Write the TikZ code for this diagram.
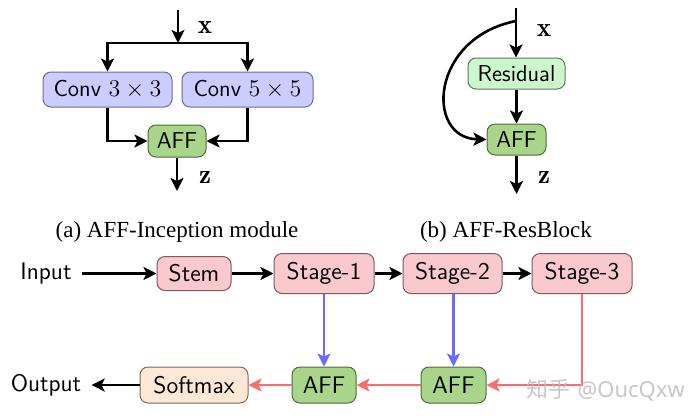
\documentclass[tikz,border=0pt]{standalone}
\usepackage{fontspec}
\usetikzlibrary{arrows.meta,calc}
\newfontfamily\capfont{Liberation Serif}
\newfontfamily\cjkfont{Noto Sans CJK SC}
\newfontfamily\wmfont{Noto Sans}
\definecolor{convfill}{HTML}{CCCCFF}
\definecolor{convdraw}{HTML}{6A6A9A}
\definecolor{afffill}{HTML}{A8D58A}
\definecolor{affdraw}{HTML}{4F6B3A}
\definecolor{resfill}{HTML}{CCF7CC}
\definecolor{resdraw}{HTML}{5A7A5A}
\definecolor{softfill}{HTML}{FDE8D5}
\definecolor{softdraw}{HTML}{7A6A5A}
\definecolor{stagefill}{HTML}{F9C9CE}
\definecolor{stagedraw}{HTML}{7A5A5A}
\definecolor{bluearr}{HTML}{6B6BFF}
\definecolor{redarr}{HTML}{FF6B6B}
\tikzset{
  box/.style={rounded corners=4pt, line width=0.5pt, inner sep=0pt, align=center},
  topfont/.style={font=\sffamily\fontsize{11.5}{13}\selectfont},
  botfont/.style={font=\sffamily\fontsize{12}{14}\selectfont},
  convbox/.style={box, topfont, fill=convfill, draw=convdraw},
  affbox/.style={box, fill=afffill, draw=affdraw},
  resbox/.style={box, topfont, fill=resfill, draw=resdraw},
  stagebox/.style={box, botfont, fill=stagefill, draw=stagedraw},
  softbox/.style={box, botfont, fill=softfill, draw=softdraw},
  blk/.style={line width=1.3pt, -{Stealth[length=6.5pt,width=6.5pt,inset=1.5pt]}},
  blu/.style={line width=1.1pt, draw=bluearr, -{Stealth[length=6.5pt,width=6.5pt,inset=1.5pt]}},
  rd/.style={line width=1.1pt, draw=redarr, -{Stealth[length=6.5pt,width=6.5pt,inset=1.5pt]}},
  lab/.style={font=\fontsize{13.5}{15}\selectfont},
  captext/.style={font=\capfont\fontsize{11.5}{14}\selectfont},
}
\begin{document}
\begin{tikzpicture}[x=0.5pt,y=-0.5pt]
\useasboundingbox (0,0) rectangle (688,418);
% (a) AFF-Inception module
\coordinate (atop) at (178,10);
\coordinate (asplit) at (178,43);
\node[convbox, minimum width=64.5pt, minimum height=17.5pt] (conv3) at (107.5,89.5) {Conv $3\times3$};
\node[convbox, minimum width=65.5pt, minimum height=17.5pt] (conv5) at (247.5,89.5) {Conv $5\times5$};
\node[affbox, topfont, minimum width=29pt, minimum height=16pt] (affa) at (177,141) {AFF};
\coordinate (aout) at (177,191);
\node[lab] (xa) at (205,28) {$\mathbf{x}$};
\node[lab] (za) at (205,177) {$\mathbf{z}$};
\draw[blk] (atop) -- (asplit);
\draw[blk] (asplit) -| (conv3);
\draw[blk] (asplit) -| (conv5);
\draw[blk] (conv3) |- (affa);
\draw[blk] (conv5) |- (affa);
\draw[blk] (affa) -- (aout);
\node[captext] (capa) at (177,232) {(a) AFF-Inception module};
% (b) AFF-ResBlock
\coordinate (btop) at (516,8);
\coordinate (bsplit) at (516,21);
\node[resbox, minimum width=48.5pt, minimum height=15.5pt] (res) at (516.5,73.5) {Residual};
\node[affbox, topfont, minimum width=29.5pt, minimum height=15.5pt] (affb) at (516.5,139.5) {AFF};
\coordinate (bout) at (516,194);
\node[lab] (xb) at (544,31) {$\mathbf{x}$};
\node[lab] (zb) at (544,177) {$\mathbf{z}$};
\draw[blk] (btop) -- (btop |- res.north);
\draw[blk] (res.south) -- (res.south |- affb.north);
\draw[blk] (affb.south) -- (affb.south |- bout);
\draw[blk] (bsplit) .. controls (430,38) and (425,138) .. (affb.west);
\node[captext] (capb) at (506,232) {(b) AFF-ResBlock};
% bottom pipeline
\node[botfont, inner sep=0pt] (inp) at (46,273) {Input};
\node[stagebox, minimum width=37pt, minimum height=17pt] (stem) at (194,273.5) {Stem};
\node[stagebox, minimum width=50pt, minimum height=20pt] (s1) at (324,273.5) {Stage-1};
\node[stagebox, minimum width=49.5pt, minimum height=20pt] (s2) at (452.5,273.5) {Stage-2};
\node[stagebox, minimum width=50pt, minimum height=20pt] (s3) at (582,273.5) {Stage-3};
\node[affbox, botfont, minimum width=32pt, minimum height=18pt] (aff1) at (324,385) {AFF};
\node[affbox, botfont, minimum width=32.5pt, minimum height=18pt] (aff2) at (453.5,385) {AFF};
\node[softbox, minimum width=54pt, minimum height=18pt] (soft) at (194,385) {Softmax};
\node[botfont, inner sep=0pt] (outp) at (46,385) {Output};
\draw[blk, shorten <=5pt] (inp.east |- stem.west) -- (stem.west);
\draw[blk] (stem) -- (s1);
\draw[blk] (s1) -- (s2);
\draw[blk] (s2) -- (s3);
\draw[blu] (s1) -- (aff1);
\draw[blu] (aff2.north |- s2.south) -- (aff2.north);
\draw[rd] (s3.south) |- (aff2.east);
\draw[rd] (aff2) -- (aff1);
\draw[rd] (aff1) -- (soft);
\draw[blk, shorten >=5pt] (soft.west) -- (outp.east);
% watermark
\node[anchor=west, inner sep=0pt, text=gray!55, opacity=0.8, font=\fontsize{11}{13}\selectfont] (wm) at (526,390) {{\cjkfont 知乎} {\wmfont @OucQxw}};
\end{tikzpicture}
\end{document}
